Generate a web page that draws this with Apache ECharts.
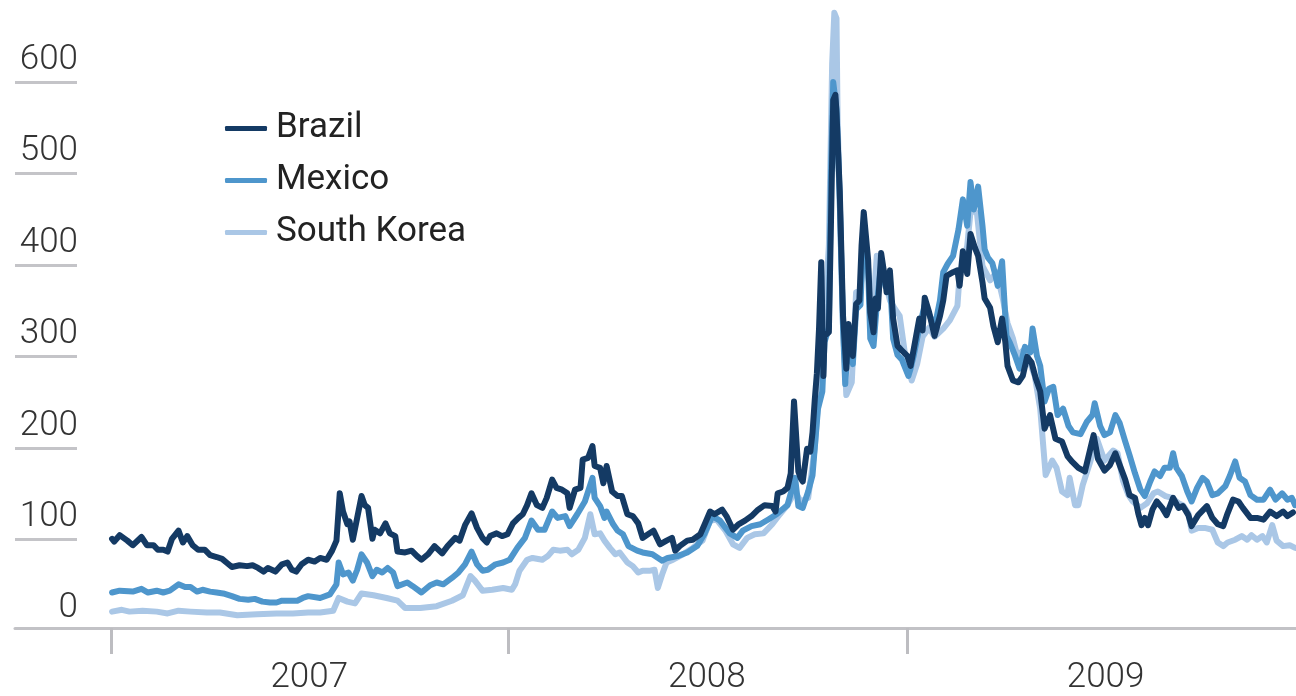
<!DOCTYPE html>
<html>
<head>
<meta charset="utf-8">
<script src="https://cdn.jsdelivr.net/npm/echarts@6/dist/echarts.min.js"></script>
<style>
html,body{margin:0;padding:0;background:#fff;}
#chart{width:1296px;height:696px;}
</style>
</head>
<body>
<div id="chart"></div>
<script>
// x values: day offsets from 2007-01-01; y values: spread (basis points)
const seriesNames = ['Brazil', 'Mexico', 'South Korea'];
const yearTickDays = [0, 365, 731];        // 1 Jan 2007, 2008, 2009
const yearLabelDays = [182, 547, 913];     // mid-year label positions
const yTicks = [0, 100, 200, 300, 400, 500, 600];

const brazil = [[1,98],[3,95],[8,102],[15,96],[20,91],[28,100],[33,91],[39,91],[43,86],[48,86],[52,84],[56,98],[62,107],[66,94],[70,101],[75,91],[80,86],[86,86],[91,80],[97,78],[102,76],[106,72],[111,67],[118,69],[125,68],[130,69],[135,66],[140,62],[144,66],[151,62],[157,70],[162,72],[166,64],[170,62],[175,70],[181,75],[187,73],[192,77],[198,75],[203,85],[207,96],[210,148],[213,128],[217,114],[219,117],[222,97],[226,121],[230,145],[233,135],[236,132],[240,98],[242,108],[247,104],[252,115],[256,104],[261,101],[263,84],[270,83],[276,85],[281,79],[285,75],[291,81],[297,90],[304,82],[309,90],[316,99],[320,96],[325,113],[331,126],[336,110],[341,99],[345,94],[348,101],[354,104],[359,101],[364,103],[369,115],[374,121],[378,125],[382,135],[386,148],[391,135],[396,132],[400,143],[405,163],[409,154],[414,152],[419,148],[421,132],[426,152],[431,154],[433,185],[438,187],[442,200],[444,178],[449,176],[452,159],[455,178],[460,150],[465,145],[469,145],[474,125],[479,123],[484,115],[488,99],[493,103],[498,107],[504,92],[510,96],[515,99],[518,85],[522,90],[529,96],[534,97],[541,103],[545,114],[550,128],[554,125],[561,130],[565,123],[571,108],[576,114],[582,118],[588,123],[594,130],[600,135],[607,134],[610,128],[612,148],[617,150],[621,154],[624,170],[627,249],[631,172],[633,165],[635,161],[639,197],[642,194],[644,215],[646,250],[648,280],[650,330],[652,402],[654,277],[655,321],[659,325],[661,450],[663,580],[665,586],[666,566],[669,480],[672,343],[675,285],[677,334],[681,299],[684,356],[687,360],[689,420],[691,457],[695,405],[697,347],[700,325],[702,362],[704,351],[707,412],[711,380],[712,369],[715,393],[718,340],[722,310],[726,305],[731,299],[734,288],[737,307],[742,340],[745,327],[747,363],[751,347],[756,321],[761,343],[764,360],[767,387],[773,391],[777,393],[779,376],[782,414],[786,389],[789,433],[793,418],[796,409],[800,380],[802,362],[807,352],[810,332],[814,314],[818,340],[821,314],[823,288],[828,272],[833,270],[837,277],[841,298],[845,292],[849,274],[853,260],[857,219],[862,234],[867,208],[873,205],[878,189],[882,183],[888,176],[894,172],[899,197],[902,212],[906,186],[912,173],[917,179],[922,192],[926,179],[931,163],[935,146],[940,143],[943,126],[946,113],[949,121],[952,113],[956,130],[960,139],[965,132],[969,124],[975,143],[980,132],[984,134],[989,124],[992,112],[998,124],[1006,134],[1011,121],[1016,114],[1021,112],[1025,126],[1030,141],[1035,139],[1039,132],[1046,121],[1052,121],[1058,119],[1064,128],[1070,123],[1076,128],[1080,123],[1085,127]];

const mexico = [[1,39],[8,41],[20,40],[28,43],[34,39],[42,41],[48,39],[54,41],[62,48],[68,45],[73,45],[79,40],[84,42],[91,40],[97,39],[103,38],[111,35],[118,32],[126,31],[132,32],[139,29],[146,28],[152,28],[157,30],[164,30],[171,30],[176,33],[181,35],[192,33],[201,37],[207,48],[209,72],[213,59],[218,61],[222,52],[226,64],[230,81],[235,72],[240,57],[244,64],[249,61],[254,66],[259,61],[263,46],[272,50],[277,46],[285,39],[293,47],[299,50],[305,48],[313,55],[319,61],[325,70],[331,84],[336,70],[341,63],[346,64],[353,70],[360,72],[366,75],[373,88],[380,99],[386,118],[392,108],[398,108],[405,128],[410,121],[417,123],[421,112],[428,125],[435,139],[442,165],[444,143],[449,134],[453,121],[455,128],[461,114],[465,107],[470,103],[475,90],[483,85],[488,83],[497,81],[506,74],[511,77],[520,79],[529,83],[538,90],[545,104],[552,123],[559,118],[568,104],[575,99],[580,107],[588,112],[596,114],[603,119],[611,125],[621,135],[628,165],[631,134],[635,132],[640,150],[644,168],[649,241],[653,260],[655,314],[659,330],[661,500],[663,600],[666,570],[669,470],[672,330],[674,268],[677,320],[681,290],[684,350],[688,355],[691,440],[695,395],[697,318],[700,310],[703,355],[707,400],[711,375],[715,385],[718,318],[722,300],[726,295],[732,277],[734,285],[737,300],[742,330],[747,355],[751,345],[756,330],[761,360],[764,391],[768,400],[773,409],[778,438],[782,471],[786,442],[789,490],[792,460],[796,485],[800,442],[802,416],[805,407],[809,401],[812,387],[814,376],[818,403],[822,321],[825,314],[830,299],[834,285],[839,309],[844,303],[846,329],[850,299],[853,288],[857,249],[861,263],[865,265],[869,234],[874,241],[879,222],[883,215],[890,213],[896,227],[901,234],[903,247],[908,222],[912,212],[917,215],[922,234],[926,225],[931,205],[935,190],[940,170],[945,152],[949,145],[954,161],[958,172],[963,167],[967,176],[972,176],[975,192],[978,176],[983,167],[988,150],[992,139],[997,154],[1002,165],[1006,161],[1011,146],[1016,148],[1023,156],[1027,167],[1032,183],[1036,165],[1041,161],[1046,146],[1052,141],[1058,141],[1064,152],[1069,141],[1075,148],[1080,141],[1084,143],[1087,135]];

const southKorea = [[1,18],[10,20],[17,18],[29,19],[42,18],[52,16],[62,19],[73,18],[88,17],[100,17],[116,14],[134,15],[152,16],[167,16],[181,17],[192,17],[204,19],[209,33],[217,29],[224,27],[230,38],[241,36],[253,33],[263,30],[270,22],[284,22],[299,24],[313,30],[323,36],[330,57],[334,52],[341,41],[350,42],[360,44],[368,42],[371,48],[375,63],[382,75],[387,77],[396,75],[401,79],[406,86],[412,85],[419,86],[423,81],[429,86],[435,99],[440,125],[444,103],[449,104],[453,96],[458,88],[463,81],[467,83],[474,72],[479,68],[484,61],[488,63],[495,63],[499,64],[502,44],[506,59],[510,72],[516,75],[525,81],[534,88],[543,96],[550,118],[556,119],[564,107],[571,92],[577,88],[584,99],[591,103],[599,104],[607,114],[614,125],[621,135],[628,150],[633,139],[640,143],[646,197],[651,280],[655,340],[659,420],[662,620],[664,676],[666,670],[667,560],[670,420],[672,330],[675,256],[680,270],[684,369],[688,370],[691,420],[695,390],[699,340],[703,409],[707,395],[711,380],[715,360],[720,350],[724,343],[729,300],[735,272],[740,290],[745,320],[751,330],[756,320],[764,329],[770,338],[777,354],[779,387],[786,420],[789,457],[791,460],[795,455],[800,398],[807,382],[813,391],[819,360],[823,335],[828,318],[832,299],[839,307],[848,277],[853,241],[856,197],[858,168],[864,184],[868,176],[873,150],[878,146],[880,165],[885,135],[888,135],[892,157],[899,183],[905,208],[912,184],[920,195],[924,192],[929,162],[934,146],[938,139],[945,132],[951,137],[957,148],[961,150],[968,145],[974,143],[980,137],[984,135],[989,126],[992,107],[998,110],[1004,110],[1011,108],[1016,94],[1021,90],[1025,94],[1032,97],[1038,101],[1043,97],[1047,102],[1052,97],[1057,101],[1061,94],[1066,113],[1070,96],[1076,90],[1082,91],[1087,88]];

const DAY = 86400000;
const T0 = Date.UTC(2007, 0, 1);
const yearOf = d => String(new Date(T0 + d * DAY).getUTCFullYear());

const colors = { 'Brazil': '#143a64', 'Mexico': '#4e96cc', 'South Korea': '#aac7e6' };
const FONT = 'Roboto, "Liberation Sans", Arial, sans-serif';
const GRID_TOP = 9.2, GRID_BOTTOM = 65.5;

const chart = echarts.init(document.getElementById('chart'), null, { renderer: 'canvas' });

function lineSeries(name, arr) {
  return {
    name: name, type: 'line', xAxisIndex: 0, yAxisIndex: 0,
    data: arr, showSymbol: false, symbol: 'none', smooth: false,
    lineStyle: { color: colors[name], width: 6, cap: 'round', join: 'round' },
    itemStyle: { color: colors[name] },
    emphasis: { disabled: true }
  };
}

chart.setOption({
  animation: false,
  backgroundColor: '#ffffff',
  textStyle: { fontFamily: FONT },
  grid: [
    { left: 15, right: 0, top: GRID_TOP, bottom: GRID_BOTTOM },
    { left: 15, width: 62, top: GRID_TOP, bottom: GRID_BOTTOM }
  ],
  legend: {
    left: 220, top: 106, orient: 'vertical',
    itemWidth: 42, itemHeight: 5, itemGap: 17, icon: 'roundRect',
    data: seriesNames,
    textStyle: { fontSize: 35, color: '#222', fontFamily: FONT, padding: [0, 0, 0, 4] },
    selectedMode: false
  },
  xAxis: [
    {
      gridIndex: 0, type: 'value',
      min: -88.1, max: 1087.8,
      axisLine: { show: true, onZero: false, lineStyle: { color: '#c2c2c6', width: 3 } },
      axisTick: { show: true, customValues: yearTickDays, length: 26, lineStyle: { color: '#bdbdc1', width: 3 } },
      axisLabel: {
        customValues: yearLabelDays,
        formatter: v => yearOf(v),
        fontSize: 35, color: '#333', fontWeight: 300, fontFamily: FONT, margin: 33
      },
      splitLine: { show: false }
    },
    { gridIndex: 1, type: 'value', show: false, min: 0, max: 1 }
  ],
  yAxis: [
    { gridIndex: 0, type: 'value', min: 0, max: 680, show: false },
    {
      gridIndex: 1, type: 'value', min: 0, max: 680, interval: 100, position: 'right',
      axisLine: { show: false }, axisTick: { show: false },
      axisLabel: {
        inside: true, margin: -1, showMaxLabel: false,
        fontSize: 35, color: '#333', fontWeight: 300, fontFamily: FONT,
        verticalAlign: 'bottom', lineHeight: 44,
        formatter: v => (yTicks.indexOf(v) >= 0 ? String(v) : '')
      },
      splitLine: { show: true, showMinLine: false, showMaxLine: false, lineStyle: { color: '#c4c4c8', width: 3 } }
    }
  ],
  series: [
    lineSeries('South Korea', southKorea),
    lineSeries('Mexico', mexico),
    lineSeries('Brazil', brazil)
  ]
});
</script>
</body>
</html>
